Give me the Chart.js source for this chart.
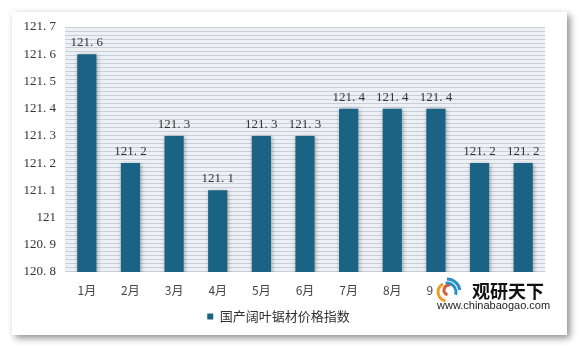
<!DOCTYPE html>
<html><head><meta charset="utf-8">
<script src="https://cdn.jsdelivr.net/npm/chart.js@4/dist/chart.umd.min.js"></script>
<style>
html,body{margin:0;padding:0;background:#fff;width:581px;height:347px;overflow:hidden;}
#panel{position:absolute;left:12px;top:12px;width:555px;height:323px;background:#fff;box-shadow:3px 3px 7px rgba(0,0,0,0.45);}
canvas{display:block;}
</style></head>
<body>
<div id="panel"><canvas id="c" width="555" height="323"></canvas></div>
<script>
const categories = ['1月','2月','3月','4月','5月','6月','7月','8月','9月','10月','11月'];
const seriesName = '国产阔叶锯材价格指数';
const values = [121.6, 121.2, 121.3, 121.1, 121.3, 121.3, 121.4, 121.4, 121.4, 121.2, 121.2];
const yMin = 120.8, yMax = 121.7, yStep = 0.1;

const fmt = v => String(Number(v.toFixed(1)));

const stripes = {
  id:'stripes',
  beforeDraw(chart){
    const {ctx, chartArea:a} = chart;
    const p = document.createElement('canvas'); p.width = 4; p.height = 4;
    const pc = p.getContext('2d');
    pc.fillStyle = '#edf1f5'; pc.fillRect(0,0,4,4);
    pc.fillStyle = '#c9cfd6'; pc.fillRect(0,3,4,1);
    ctx.save();
    ctx.fillStyle = ctx.createPattern(p,'repeat');
    ctx.fillRect(a.left, a.top, a.right-a.left, a.bottom-a.top);
    ctx.restore();
  }
};
const shadow = {
  id:'shadow',
  beforeDatasetsDraw(chart){ const c=chart.ctx; c.save(); c.shadowColor='rgba(0,0,0,0.35)'; c.shadowBlur=4; c.shadowOffsetX=1; c.shadowOffsetY=1; },
  afterDatasetsDraw(chart){ chart.ctx.restore(); }
};
const labels = {
  id:'labels',
  afterDatasetsDraw(chart){
    const ctx = chart.ctx; const meta = chart.getDatasetMeta(0);
    ctx.save();
    ctx.font = '13px "Liberation Serif", "DejaVu Serif", serif';
    ctx.fillStyle = '#333'; ctx.textAlign='center'; ctx.textBaseline='bottom';
    meta.data.forEach((bar,i)=>{ ctx.fillText(fmt(values[i]).replace('.', '. '), bar.x, bar.y - 5); });
    ctx.restore();
  }
};
const logo = {
  id:'logo',
  afterDraw(chart){
    const ctx = chart.ctx, a = chart.chartArea;
    const x0 = a.right - 110, y0 = a.bottom + 4;
    ctx.save();
    ctx.fillStyle = '#fff'; ctx.fillRect(x0-2, y0, 124, 38);
    // swoosh icon
    ctx.lineWidth = 3;
    ctx.strokeStyle = '#f29a1f';
    ctx.beginPath(); ctx.arc(x0+12, y0+16, 9, Math.PI*0.55, Math.PI*1.35); ctx.stroke();
    ctx.strokeStyle = '#e2572b';
    ctx.beginPath(); ctx.arc(x0+14, y0+14, 5, Math.PI*0.6, Math.PI*1.6); ctx.stroke();
    ctx.strokeStyle = '#2a8fc7';
    ctx.beginPath(); ctx.arc(x0+12, y0+16, 9, Math.PI*1.45, Math.PI*2.1); ctx.stroke();
    ctx.beginPath(); ctx.arc(x0+12, y0+16, 13, Math.PI*1.5, Math.PI*1.95); ctx.stroke();
    ctx.fillStyle = '#111';
    ctx.font = 'bold 18px "Noto Sans CJK SC", sans-serif';
    ctx.textBaseline='middle'; ctx.textAlign='left';
    ctx.fillText('观研天下', x0+37, y0+15);
    ctx.font = '11px "Liberation Sans", Arial, sans-serif';
    ctx.fillStyle='#222';
    ctx.fillText('www.chinabaogao.com', x0+2, y0+30);
    ctx.restore();
  }
};

new Chart(document.getElementById('c'), {
  type:'bar',
  data:{ labels: categories, datasets:[{ label: seriesName, data: values, backgroundColor:'#1a6384', borderWidth:0, barPercentage:0.44, categoryPercentage:1.0 }]},
  options:{
    responsive:false, animation:false,
    layout:{ padding:{ left:0, right:22, top:15, bottom:2 } },
    plugins:{
      tooltip:{enabled:false},
      legend:{ position:'bottom', labels:{ boxWidth:6, boxHeight:6, color:'#333', padding:8, font:{ size:13, family:'"Noto Sans CJK SC", sans-serif' } } }
    },
    scales:{
      x:{ grid:{display:false}, border:{display:false},
          ticks:{ color:'#444', font:{size:12, family:'"Noto Sans CJK SC", sans-serif'}, padding:3, maxRotation:0, autoSkip:false },
          afterFit(s){ s.height = 30; } },
      y:{ min:yMin, max:yMax, grid:{display:false}, border:{display:false},
          ticks:{ stepSize:yStep, color:'#333', padding:1, font:{size:13, family:'"Liberation Serif", "DejaVu Serif", serif'}, callback:v=>fmt(v).replace('.', '. ') },
          afterFit(s){ s.width = 53; } }
    }
  },
  plugins:[stripes, shadow, labels, logo]
});
</script>
</body></html>
